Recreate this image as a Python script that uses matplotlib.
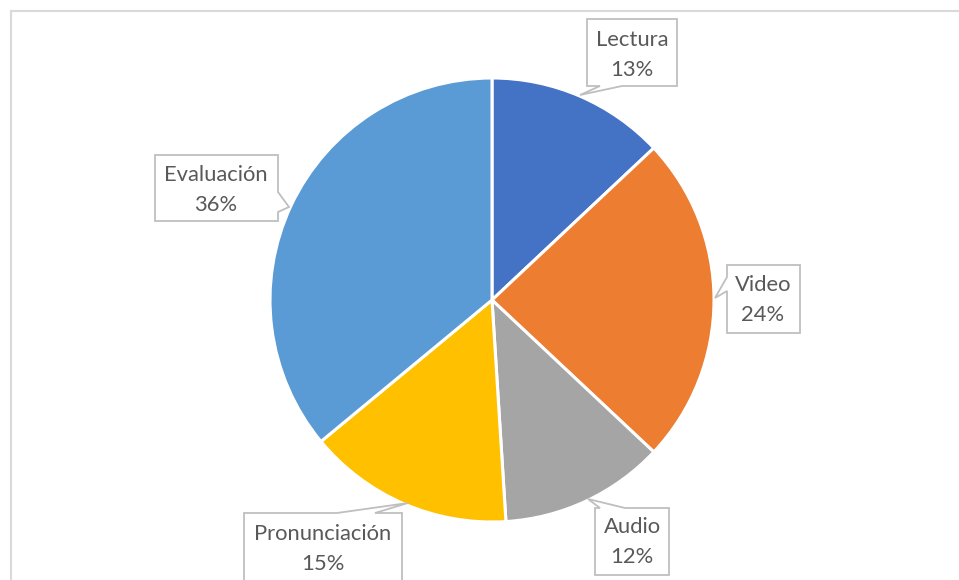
import matplotlib
matplotlib.use("Agg")
import matplotlib.pyplot as plt
from matplotlib.patches import Polygon

plt.rcParams['font.family'] = ['Lato', 'DejaVu Sans']

categories = ["Lectura", "Video", "Audio", "Pronunciación", "Evaluación"]
percentages = [13, 24, 12, 15, 36]
colors = ["#4472C4", "#ED7D31", "#A5A5A5", "#FFC000", "#5B9BD5"]

W, H = 959, 580
fig = plt.figure(figsize=(W / 100, H / 100), dpi=100)
ax = fig.add_axes([0, 0, 1, 1])

def Y(y):
    # convert top-down pixel row to axes y
    return H - y

ax.pie(percentages, colors=colors, startangle=90, counterclock=False,
       center=(492, Y(300)), radius=222,
       wedgeprops=dict(edgecolor="white", linewidth=2.2), frame=True)
ax.set_xlim(0, W)
ax.set_ylim(0, H)
ax.set_aspect("equal")
ax.axis("off")

# chart area border
ax.plot([11, 11, W + 5], [Y(H + 5), Y(11), Y(11)], color="#D9D9D9",
        lw=1.5, solid_joinstyle="miter", zorder=1)

# callout layout: box (x0, y0, x1, y1), pointer side, pointer base span, tip, text centre
layout = [
    ((587, 19, 677, 86), "bottom", (600, 622), (580, 95), (632, 55)),
    ((727, 265, 800, 333), "left", (277, 291), (715, 298), (763, 300)),
    ((595, 508, 669, 575), "top", (600, 625), (588, 499), (632, 542)),
    ((244, 513, 402, 600), "top", (337, 375), (408, 503), (323, 549)),
    ((155, 155, 278, 221), "right", (192, 212), (289, 207), (216, 190)),
]

def callout_path(box, side, span, tip):
    x0, y0, x1, y1 = box
    a, b = span
    if side == "bottom":
        pts = [(x0, y0), (x1, y0), (x1, y1), (b, y1), tip, (a, y1), (x0, y1)]
    elif side == "top":
        pts = [(x0, y0), (a, y0), tip, (b, y0), (x1, y0), (x1, y1), (x0, y1)]
    elif side == "left":
        pts = [(x0, y0), (x1, y0), (x1, y1), (x0, y1), (x0, b), tip, (x0, a)]
    else:
        pts = [(x0, y0), (x1, y0), (x1, a), tip, (x1, b), (x1, y1), (x0, y1)]
    return [(px, Y(py)) for px, py in pts]

for name, pct, (box, side, span, tip, txt) in zip(categories, percentages, layout):
    poly = Polygon(callout_path(box, side, span, tip), closed=True,
                   facecolor="white", edgecolor="#BFBFBF", lw=1.3,
                   joinstyle="miter", zorder=5)
    ax.add_patch(poly)
    ax.text(txt[0], Y(txt[1]), f"{name}\n{pct}%", ha="center", va="center",
            fontsize=15.8, color="#595959", linespacing=1.68, zorder=6)

fig.savefig("out.png", dpi=100)
